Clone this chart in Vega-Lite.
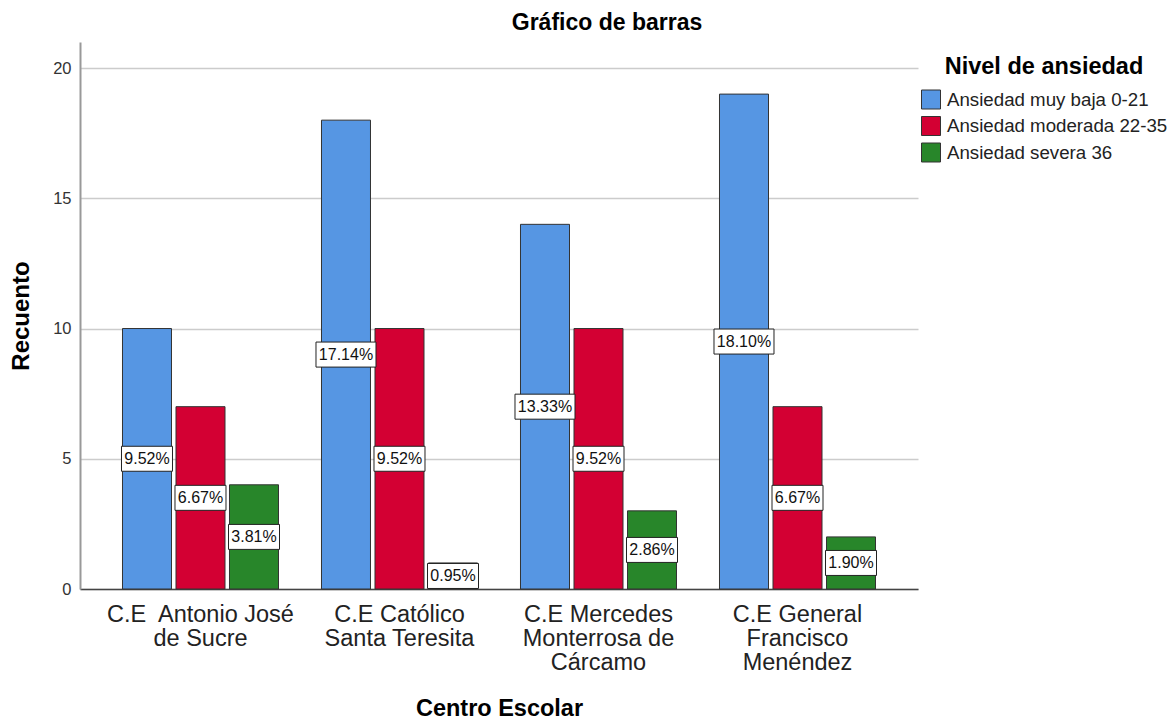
{
  "$schema": "https://vega.github.io/schema/vega-lite/v6.json",
  "width": 838,
  "height": 547,
  "autosize": {"type": "none"},
  "padding": {"left": 80, "top": 42, "right": 250, "bottom": 130},
  "background": "white",
  "title": {
    "text": "Gráfico de barras",
    "font": "Liberation Sans",
    "fontSize": 23,
    "fontWeight": "bold",
    "color": "#000000",
    "anchor": "middle",
    "frame": "group",
    "dx": 108,
    "offset": 7
  },
  "config": {
    "view": {"stroke": null},
    "font": "Liberation Sans"
  },
  "data": {
    "values": [
      {"centro": "C.E\u00a0 Antonio José\nde Sucre", "nivel": "Ansiedad muy baja 0-21", "count": 10, "pct": "9.52%"},
      {"centro": "C.E\u00a0 Antonio José\nde Sucre", "nivel": "Ansiedad moderada 22-35", "count": 7, "pct": "6.67%"},
      {"centro": "C.E\u00a0 Antonio José\nde Sucre", "nivel": "Ansiedad severa 36", "count": 4, "pct": "3.81%"},
      {"centro": "C.E Católico\nSanta Teresita", "nivel": "Ansiedad muy baja 0-21", "count": 18, "pct": "17.14%"},
      {"centro": "C.E Católico\nSanta Teresita", "nivel": "Ansiedad moderada 22-35", "count": 10, "pct": "9.52%"},
      {"centro": "C.E Católico\nSanta Teresita", "nivel": "Ansiedad severa 36", "count": 1, "pct": "0.95%"},
      {"centro": "C.E Mercedes\nMonterrosa de\nCárcamo", "nivel": "Ansiedad muy baja 0-21", "count": 14, "pct": "13.33%"},
      {"centro": "C.E Mercedes\nMonterrosa de\nCárcamo", "nivel": "Ansiedad moderada 22-35", "count": 10, "pct": "9.52%"},
      {"centro": "C.E Mercedes\nMonterrosa de\nCárcamo", "nivel": "Ansiedad severa 36", "count": 3, "pct": "2.86%"},
      {"centro": "C.E General\nFrancisco\nMenéndez", "nivel": "Ansiedad muy baja 0-21", "count": 19, "pct": "18.10%"},
      {"centro": "C.E General\nFrancisco\nMenéndez", "nivel": "Ansiedad moderada 22-35", "count": 7, "pct": "6.67%"},
      {"centro": "C.E General\nFrancisco\nMenéndez", "nivel": "Ansiedad severa 36", "count": 2, "pct": "1.90%"}
    ]
  },
  "encoding": {
    "x": {
      "field": "centro",
      "type": "nominal",
      "sort": null,
      "scale": {"paddingInner": 0.216, "paddingOuter": 0.2135},
      "title": "Centro Escolar",
      "axis": {
        "labelAngle": 0,
        "ticks": false,
        "labelFont": "Liberation Sans",
        "labelFontSize": 23.5,
        "labelColor": "#222222",
        "labelPadding": 13,
        "labelExpr": "split(datum.label, '\\n')",
        "labelLineHeight": 24,
        "labelLimit": 400,
        "labelOverlap": false,
        "labelBound": false,
        "domainColor": "#444444",
        "domainWidth": 1.5,
        "grid": false,
        "titleFont": "Liberation Sans",
        "titleFontSize": 23.5,
        "titleFontWeight": "bold",
        "titleColor": "#000000",
        "titleY": 119,
        "titleBaseline": "middle"
      }
    },
    "xOffset": {
      "field": "nivel",
      "type": "nominal",
      "sort": ["Ansiedad muy baja 0-21", "Ansiedad moderada 22-35", "Ansiedad severa 36"],
      "scale": {"paddingInner": 0.084, "paddingOuter": 0}
    }
  },
  "layer": [
    {
      "mark": {"type": "bar", "stroke": "#333333", "strokeWidth": 1, "opacity": 1},
      "encoding": {
        "y": {
          "field": "count",
          "type": "quantitative",
          "scale": {"domain": [0, 21], "nice": false, "zero": true},
          "title": "Recuento",
          "axis": {
            "values": [0, 5, 10, 15, 20],
            "ticks": false,
            "labelFont": "Liberation Sans",
            "labelFontSize": 16.5,
            "labelColor": "#333333",
            "labelPadding": 9,
            "domainColor": "#999999",
            "domainWidth": 2,
            "grid": true,
            "gridColor": "#cccccc",
            "gridWidth": 1.5,
            "titleFont": "Liberation Sans",
            "titleFontSize": 24,
            "titleFontWeight": "bold",
            "titleColor": "#000000",
            "titleX": -59,
            "titleBaseline": "middle"
          }
        },
        "color": {
          "field": "nivel",
          "type": "nominal",
          "scale": {
            "domain": ["Ansiedad muy baja 0-21", "Ansiedad moderada 22-35", "Ansiedad severa 36"],
            "range": ["#5696E3", "#D30033", "#28862A"]
          },
          "legend": {
            "title": "Nivel de ansiedad",
            "orient": "none",
            "legendX": 841,
            "legendY": 13,
            "padding": 0,
            "titleFont": "Liberation Sans",
            "titleFontSize": 23.5,
            "titleFontWeight": "bold",
            "titleColor": "#000000",
            "titleAnchor": "middle",
            "titleAlign": "center",
            "titleLimit": 400,
            "titlePadding": 11,
            "labelFont": "Liberation Sans",
            "labelFontSize": 18.7,
            "labelColor": "#222222",
            "labelLimit": 300,
            "labelOffset": 6,
            "symbolType": "square",
            "symbolSize": 361,
            "symbolStrokeColor": "#333333",
            "symbolStrokeWidth": 1,
            "symbolOpacity": 1,
            "rowPadding": 2.5
          }
        }
      }
    },
    {
      "encoding": {
        "y": {
          "field": "count",
          "type": "quantitative",
          "scale": {"domain": [0, 42], "nice": false, "zero": true},
          "axis": null
        }
      },
      "layer": [
        {
          "mark": {"type": "point", "filled": true, "fill": "#ffffff", "stroke": "#222222", "strokeWidth": 1, "opacity": 1, "fillOpacity": 1, "strokeOpacity": 1},
          "encoding": {
            "shape": {
              "condition": {"test": "length(datum.pct) > 5", "value": "M-1,-0.417L1,-0.417L1,0.417L-1,0.417Z"},
              "value": "M-1,-0.49L1,-0.49L1,0.49L-1,0.49Z"
            },
            "size": {
              "condition": {"test": "length(datum.pct) > 5", "value": 3600},
              "value": 2601
            }
          }
        },
        {
          "mark": {"type": "text", "font": "Liberation Sans", "fontSize": 16, "color": "#111111", "baseline": "middle", "align": "center"},
          "encoding": {
            "text": {"field": "pct", "type": "nominal"}
          }
        }
      ]
    }
  ],
  "resolve": {"scale": {"y": "independent"}}
}
